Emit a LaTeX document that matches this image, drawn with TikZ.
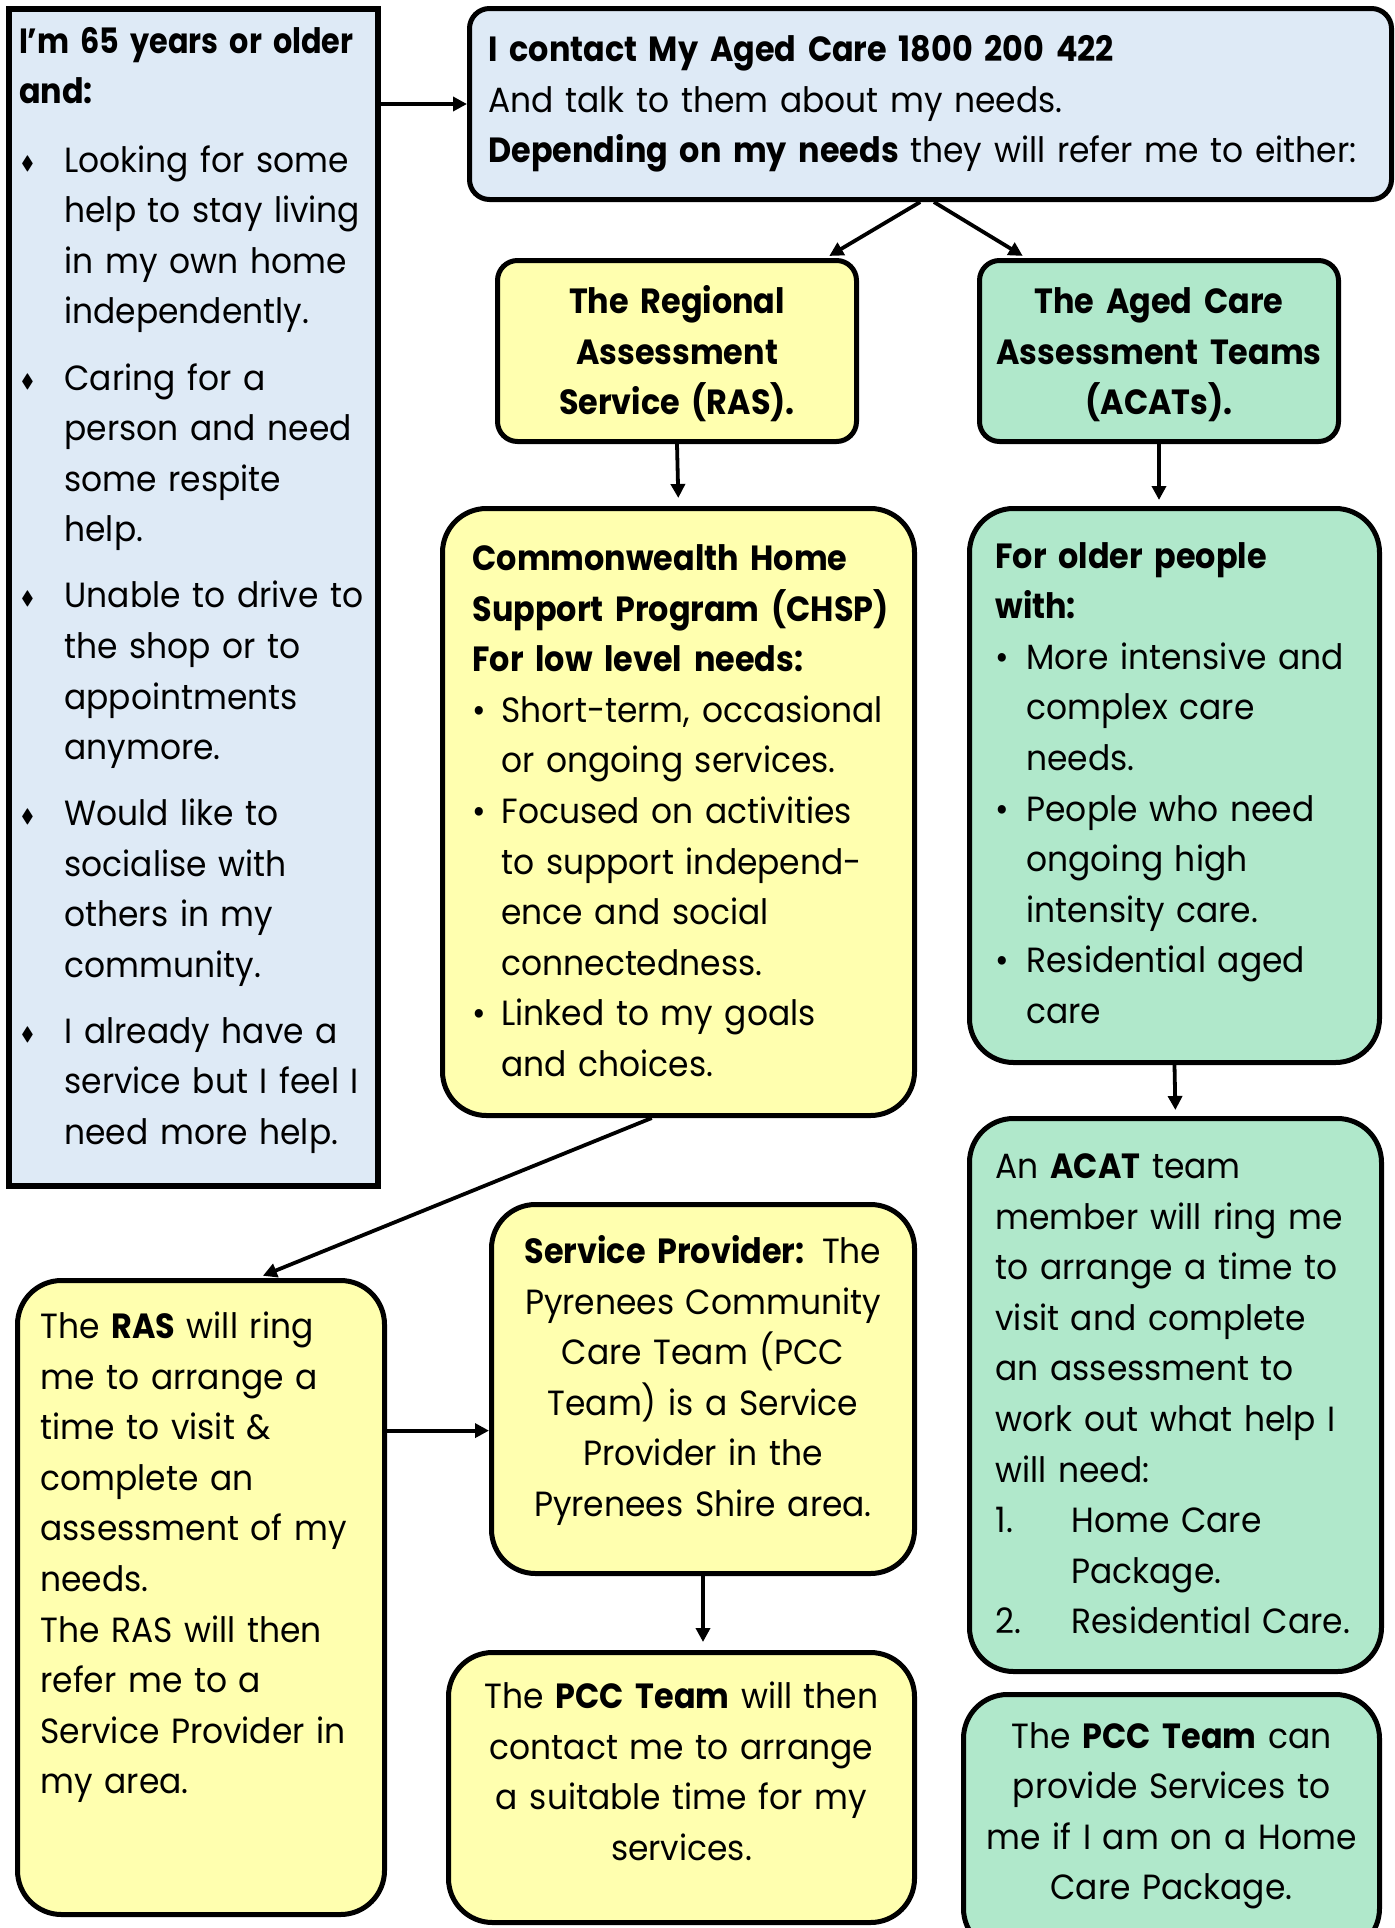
\documentclass[tikz,border=0pt]{standalone}
\usepackage{fontspec}
\usepackage{amssymb}
\setmainfont{Poppins}[FakeStretch=0.94,BoldFeatures={FakeStretch=0.91}]
\usetikzlibrary{arrows.meta,positioning}

\definecolor{boxblue}{HTML}{DEEAF6}
\definecolor{boxyellow}{HTML}{FFFFAF}
\definecolor{boxgreen}{HTML}{B0E8CB}

\hyphenpenalty=10000
\exhyphenpenalty=10000

% bullets and hanging list lines
\newcommand{\dia}{\hspace*{1pt}\raisebox{1.5pt}{\scalebox{0.55}{$\blacklozenge$}}}
\newcommand{\bul}{\textbullet}
\newcommand{\listline}[3]{\par\hangindent=#2\hangafter=1\noindent\makebox[#2][l]{#1}#3\par}
\newcommand{\wide}{\rightskip=-15pt plus 1fil\relax}

\begin{document}
\begin{tikzpicture}[x=0.5pt,y=-0.5pt,
  card/.style={draw=black,line width=2.5pt,rounded corners=22pt,inner ysep=0pt,anchor=north west,
    font=\fontsize{17.5pt}{25.3pt}\selectfont},
  small/.style={rounded corners=10pt},
  lead/.style={-{Triangle[length=7pt,width=7pt]},line width=1.9pt}]
\useasboundingbox (0,0) rectangle (1394,1928);
\clip (0,0) rectangle (1394,1928);

% left column
\node[card,sharp corners,fill=boxblue,line width=3pt,text width=174.5pt,inner xsep=5pt,
  text height=22pt,text depth=566.5pt,align=left] (older) at (6,6) {\wide\textbf{\scalebox{0.95}[1]{I’m 65 years or older}\\and:}\par\vspace{9pt}
  \listline{\dia}{22.75pt}{Looking for some\newline help to stay living\newline in my own home\newline independently.}\vspace{7.7pt}
  \listline{\dia}{22.75pt}{Caring for a\newline person and need\newline some respite\newline help.}\vspace{7.7pt}
  \listline{\dia}{22.75pt}{Unable to drive to\newline the shop or to\newline appointments\newline anymore.}\vspace{7.7pt}
  \listline{\dia}{22.75pt}{Would like to\newline socialise with\newline others in my\newline community.}\vspace{7.7pt}
  \listline{\dia}{22.75pt}{I already have a\newline service but I feel I\newline need more help.}};

\node[card,small,fill=boxblue,text width=442pt,inner xsep=9.5pt,text height=26.5pt,text depth=69pt,align=left]
  (contact) at (467,6) {\wide\textbf{I contact My Aged Care 1800 200 422}\\And talk to them about my needs.\\\textbf{Depending on my needs} they will refer me to either:};

% the two referrals
\node[card,small,fill=boxyellow,text width=175.5pt,inner xsep=2pt,text height=26.5pt,text depth=64pt,align=center]
  (ras) at (495,258) {\textbf{The Regional\\Assessment\\Service (RAS).}};
\node[card,small,fill=boxgreen,text width=175.5pt,inner xsep=2pt,text height=26.5pt,text depth=64pt,align=center]
  (acat) at (977,258) {\textbf{The Aged Care\\Assessment Teams\\(ACATs).}};

\node[card,fill=boxyellow,text width=206pt,inner xsep=15pt,text height=31pt,text depth=272.5pt,align=left]
  (chsp) at (440,506) {\wide\textbf{Commonwealth Home\\Support Program (CHSP)\\For low level needs:}\par
  \listline{\bul}{14.5pt}{Short-term, occasional\newline or ongoing services.}
  \listline{\bul}{14.5pt}{Focused on activities\newline to support independ-\newline ence and social\newline connectedness.}
  \listline{\bul}{14.5pt}{Linked to my goals\newline and choices.}};
\node[card,fill=boxgreen,text width=179pt,inner xsep=13pt,text height=29.75pt,text depth=247.25pt,align=left]
  (needs) at (967,506) {\wide\textbf{For older people\\with:}\par
  \listline{\bul}{15.5pt}{More intensive and\newline complex care\newline needs.}
  \listline{\bul}{15.5pt}{People who need\newline ongoing high\newline intensity care.}
  \listline{\bul}{15.5pt}{Residential aged\newline care}};

% RAS path
\node[card,fill=boxyellow,text width=160.5pt,inner xsep=11.5pt,text height=29pt,text depth=288pt,align=left]
  (rasring) at (15,1278) {\wide The \textbf{RAS} will ring\\me to arrange a\\time to visit \&\\complete an\\assessment of my\\needs.\\The RAS will then\\refer me to a\\Service Provider in\\my area.};
\node[card,fill=boxyellow,text width=207.5pt,inner xsep=2pt,text height=29.5pt,text depth=155pt,align=center]
  (prov) at (489,1202) {\textbf{Service Provider:} The\\Pyrenees Community\\Care Team (PCC\\Team) is a Service\\Provider in the\\Pyrenees Shire area.};
\node[card,fill=boxyellow,text width=229pt,inner xsep=2pt,text height=28pt,text depth=107pt,align=center]
  (pccthen) at (446,1650) {The \textbf{PCC Team} will then\\contact me to arrange\\a suitable time for my\\services.};

% ACAT path
\node[card,fill=boxgreen,text width=180pt,inner xsep=13pt,text height=30pt,text depth=246.5pt,align=left]
  (acatteam) at (967,1116) {\wide An \textbf{ACAT} team\\member will ring me\\to arrange a time to\\visit and complete\\an assessment to\\work out what help I\\will need:\par
  \listline{1.}{38pt}{Home Care\newline Package.}
  \listline{2.}{38pt}{Residential Care.}};
\node[card,fill=boxgreen,text width=204pt,inner xsep=2pt,text height=26.8pt,text depth=102.2pt,align=center]
  (pcccan) at (961,1692) {The \textbf{PCC Team} can\\provide Services to\\me if I am on a Home\\Care Package.};

% arrows
\draw[lead] (older.east |- contact.west) -- (contact.west);
\draw[lead,shorten >=2pt] (contact.-96) -- (ras.32);
\draw[lead,shorten >=2pt] (contact.-88) -- (acat.145);
\draw[lead,shorten >=4pt] (ras.south) -- (chsp.north);
\draw[lead,shorten >=3pt] (acat.south) -- (acat.south |- needs.north);
\draw[lead,shorten >=3pt] (chsp.-95) -- (rasring.80);
\draw[lead] (prov.191 -| rasring.east) -- (prov.191);
\draw[lead,shorten >=4pt] (prov.south) -- (prov.south |- pccthen.north);
\draw[lead,shorten >=3pt] (needs.south) -- (acatteam.north);
\end{tikzpicture}
\end{document}
